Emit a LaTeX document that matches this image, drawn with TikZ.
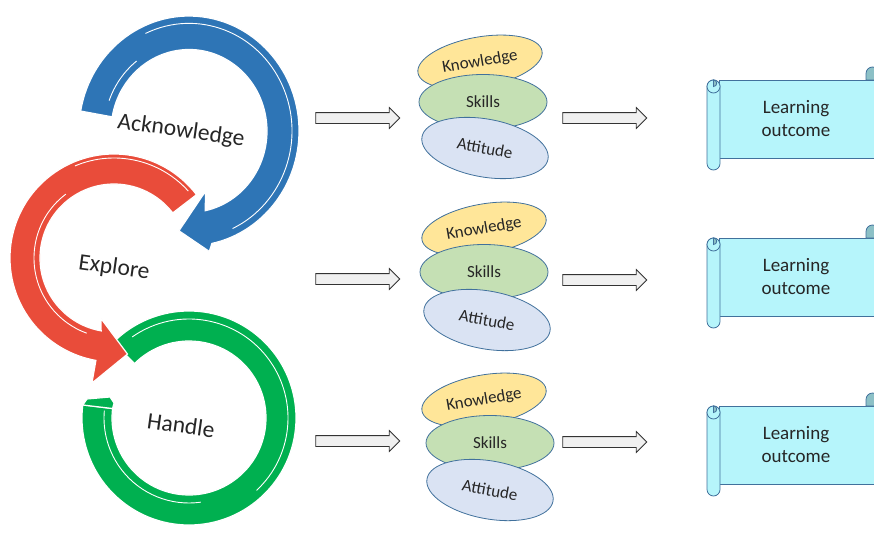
\documentclass[tikz,border=0pt]{standalone}
\usepackage{fontspec}
\setmainfont{Carlito}
\usetikzlibrary{shapes.geometric,shapes.arrows}
\definecolor{ackblue}{RGB}{46,117,182}
\definecolor{expred}{RGB}{233,76,58}
\definecolor{handgreen}{RGB}{0,176,80}
\definecolor{knowfill}{RGB}{255,230,153}
\definecolor{skillfill}{RGB}{197,224,180}
\definecolor{attfill}{RGB}{218,227,243}
\definecolor{edgeblue}{RGB}{65,113,156}
\definecolor{scrollfill}{RGB}{182,245,251}
\definecolor{curlfill}{RGB}{140,192,198}
\definecolor{inkgrey}{RGB}{38,38,38}

\begin{document}
\begin{tikzpicture}[x=1pt,y=-1pt,
    blob/.style={ellipse,draw=edgeblue,line width=0.8pt,inner sep=0pt,text=inkgrey,font=\fontsize{17}{19}\selectfont},
    know/.style={blob,fill=knowfill,minimum width=126pt,minimum height=50pt,rotate=10},
    skill/.style={blob,fill=skillfill,minimum width=128pt,minimum height=55pt},
    att/.style={blob,fill=attfill,minimum width=128pt,minimum height=58pt,rotate=-10},
    fat/.style={single arrow,draw=black!80,fill=black!6,line width=0.8pt,inner xsep=0pt,inner ysep=5pt,
        minimum width=20pt,minimum height=84pt,single arrow head extend=5pt},
    ring/.style={draw=white,line width=1.2pt},
    rim/.style={white,line width=0.9pt},
    ringtext/.style={text=inkgrey,font=\fontsize{23.5}{26}\selectfont,rotate=-8},
    outcome/.style={text=inkgrey,align=center,font=\fontsize{19}{23}\selectfont},
    roll/.style={draw=edgeblue,line width=0.8pt,fill=scrollfill}]
\useasboundingbox (0,0) rectangle (874,532);
\clip (0,0) rectangle (874,532);

% circular arrows
\begin{scope}[shift={(189,418)}]
    \filldraw[handgreen,ring] (225:107) arc[start angle=225,end angle=547,radius=107]
        -- (547:77) arc[start angle=547,end angle=225,radius=77] -- cycle;
    \draw[rim] (235:99) arc[start angle=235,end angle=407,radius=99];
    \draw[rim] (442:85) arc[start angle=442,end angle=545,radius=85];
\end{scope}
\filldraw[handgreen,ring] (82.8,405) -- (87,399) -- (110,397) -- (114,403) -- (112.6,408.5) -- cycle;
\begin{scope}[shift={(114,258)}]
    \filldraw[expred,ring] (322.5:104) arc[start angle=322.5,end angle=100,radius=104]
        -- (100:127) -- (82:97) -- (102:62) -- (100:74)
        arc[start angle=100,end angle=322.5,radius=74] -- cycle;
    \draw[rim] (247:100) arc[start angle=247,end angle=318,radius=100];
    \draw[rim] (233:80) arc[start angle=233,end angle=110,radius=80];
\end{scope}
\begin{scope}[shift={(189,131)},yscale=1.045]
    \filldraw[ackblue,ring] (190:110) arc[start angle=190,end angle=438,radius=110]
        -- (440:117) -- (456:96) -- (434:60) -- (438:78)
        arc[start angle=438,end angle=190,radius=78] -- cycle;
    \draw[rim] (245:103) arc[start angle=245,end angle=425,radius=103];
    \draw[rim] (200:85) arc[start angle=200,end angle=232,radius=85];
\end{scope}
\node[ringtext] (ack) at (181,131) {Acknowledge};
\node[ringtext] (exp) at (114,268) {Explore};
\node[ringtext] (hdl) at (181,425) {Handle};

% knowledge / skills / attitude
\node[know] (K1) at (480,62) {Knowledge};
\node[skill] (S1) at (483,102) {Skills};
\node[att] (A1) at (485,148) {Attitude};
\node[know] (K2) at (484,229) {Knowledge};
\node[skill] (S2) at (484,272) {Skills};
\node[att] (A2) at (487,320) {Attitude};
\node[know] (K3) at (484,400) {Knowledge};
\node[skill] (S3) at (490,443) {Skills};
\node[att] (A3) at (490,490) {Attitude};

% block arrows
\node[fat] (in1) at (355,118) {};
\node[fat] (out1) at (602,118) {};
\node[fat] (in2) at (355,279) {};
\node[fat] (out2) at (602,280) {};
\node[fat] (in3) at (355,441) {};
\node[fat] (out3) at (602,442) {};

% scrolls
\foreach \t/\n in {80/1,238/2,406/3}{
    \draw[roll] (719,\t) rectangle (885,\t+78);
    \draw[roll,fill=curlfill] (866,\t) -- (866,\t-6.5) arc[start angle=180,end angle=360,radius=6.5] -- (879,\t) -- cycle;
    \draw[roll,rounded corners=6.5pt] (707,\t) rectangle (720,\t+90);
    \draw[roll] (713.5,\t+6.5) circle[radius=6.5];
    \draw[roll,fill=curlfill] (713.5,\t+6.5) arc[start angle=90,end angle=-90,radius=3.25] -- cycle;
    \node[outcome] (LO\n) at (796,\t+39) {Learning\\outcome};
}
\end{tikzpicture}
\end{document}
